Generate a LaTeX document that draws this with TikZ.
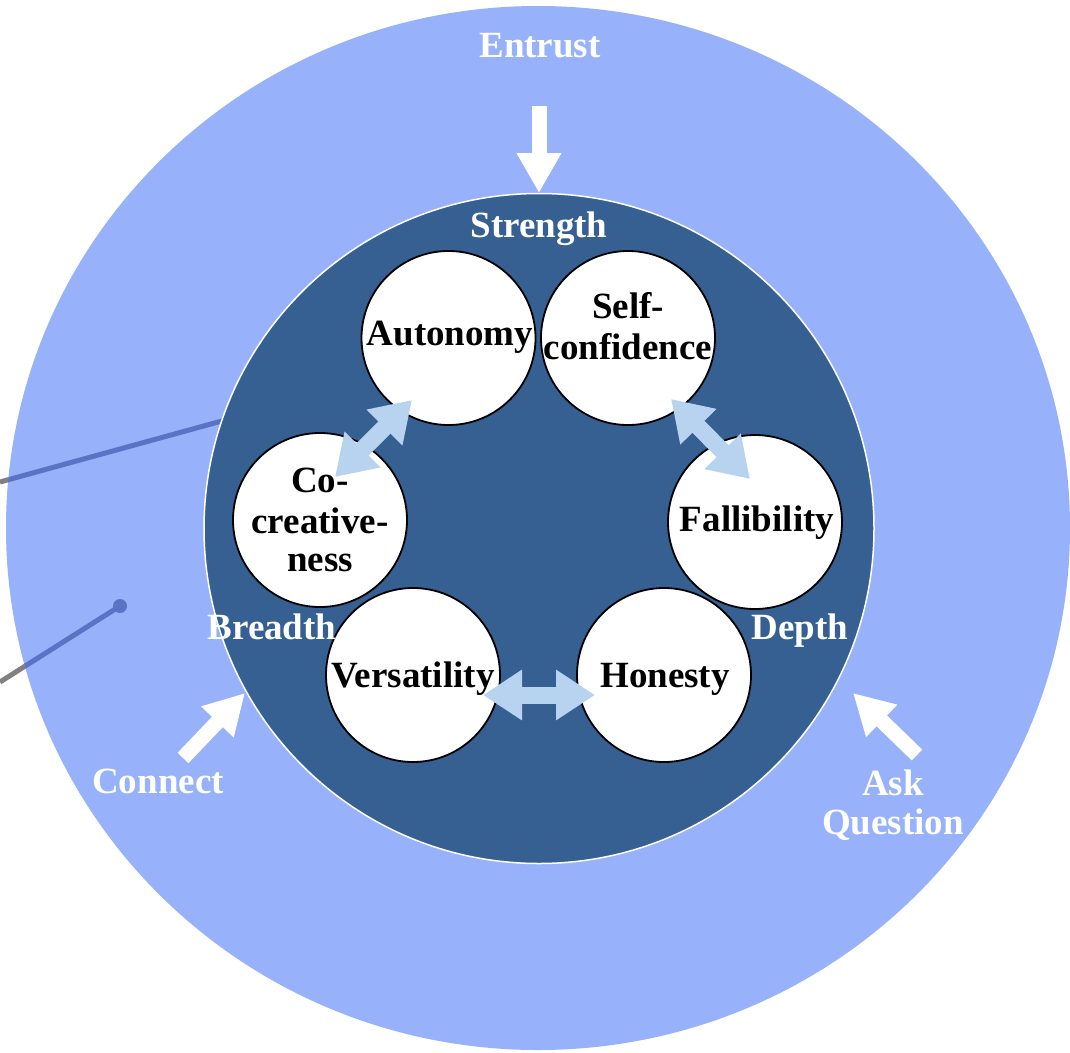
\documentclass[tikz,border=0pt]{standalone}
\usepackage{fontspec}
\setmainfont{Liberation Serif}
\usetikzlibrary{arrows.meta}
\definecolor{outerblue}{RGB}{151,178,251}
\definecolor{innerblue}{RGB}{54,96,146}
\definecolor{dblarrow}{RGB}{183,211,240}
\definecolor{leaderblue}{RGB}{90,115,196}
\definecolor{leadergray}{RGB}{128,128,128}
\begin{document}
\begin{tikzpicture}[x=1pt,y=-1pt,
  bubble/.style={circle, fill=white, draw=black, line width=1.8pt, minimum size=174pt, inner sep=0pt},
  intext/.style={font=\fontsize{37}{41}\selectfont\bfseries, text=black, align=center, anchor=base, inner sep=0pt},
  outtext/.style={font=\fontsize{37}{41}\selectfont\bfseries, text=white, align=center, anchor=base, inner sep=0pt},
  whitearrow/.style={draw=white, line width=15pt, -{Triangle[length=40pt,width=42pt]}},
  linkarrow/.style={draw=dblarrow, line width=17pt, {Triangle[length=39pt,width=48pt]}-{Triangle[length=39pt,width=48pt]}},
  leader/.style={line width=5pt},
]
\useasboundingbox (0,0) rectangle (1070,1052);
\fill[white] (0,0) rectangle (1070,1052);

% leader line coordinates
\coordinate (L1a) at (0,482);
\coordinate (L1b) at (260,410.5);
\coordinate (L2a) at (0,682);
\node[circle, fill=leaderblue, minimum size=14pt, inner sep=0pt] (dot) at (120,606) {};

\draw[leadergray, leader] (L1a) -- (L1b);
\draw[leadergray, leader] (L2a) -- (dot.center);

% outer ring
\fill[outerblue] (538,528) ellipse [x radius=532, y radius=522];
\begin{scope}
  \clip (538,528) ellipse [x radius=532, y radius=522];
  \draw[leaderblue, leader] (L1a) -- (L1b);
  \draw[leaderblue, leader] (L2a) -- (dot.center);
\end{scope}
\node[circle, fill=leaderblue, minimum size=14pt, inner sep=0pt] at (dot.center) {};

% inner disc
\node[circle, fill=innerblue, draw=white, line width=1.5pt, minimum size=670pt, inner sep=0pt] (core) at (539,528.5) {};

% bubbles
\node[bubble] (auto) at (448.5,338) {};
\node[bubble] (self) at (628,338) {};
\node[bubble] (fall) at (755,522) {};
\node[bubble] (hon)  at (664,675) {};
\node[bubble] (vers) at (413,675) {};
\node[bubble] (cocr) at (320,520) {};

% bubble texts
\node[intext] (tauto) at (450,345) {Autonomy};
\node[intext] (tself1) at (628,318) {Self-};
\node[intext] (tself2) at (628,359) {confidence};
\node[intext] (tfall) at (757,531) {Fallibility};
\node[intext] (thon) at (665,687) {Honesty};
\node[intext] (tvers) at (413,687) {Versatility};
\node[intext] (tco1) at (320,492) {Co-};
\node[intext] (tco2) at (320,533) {creative-};
\node[intext] (tco3) at (320,571) {ness};

% double arrows
\coordinate (a1s) at (335,477);
\coordinate (a1e) at (412,400);
\coordinate (a2s) at (671,399);
\coordinate (a2e) at (750,479);
\coordinate (a3s) at (483,695);
\coordinate (a3e) at (595,695);
\draw[linkarrow] (a1s) -- (a1e);
\draw[linkarrow] (a2s) -- (a2e);
\draw[linkarrow] (a3s) -- (a3e);

% ring labels
\node[outtext] (strength) at (539,237) {Strength};
\node[outtext] (breadth) at (272,639) {Breadth};
\node[outtext] (depth) at (800,639) {Depth};

% outer labels
\node[outtext] (entrust) at (540,57) {Entrust};
\node[outtext] (connect) at (158,793) {Connect};
\node[outtext] (ask1) at (893,795) {Ask};
\node[outtext] (ask2) at (893,834) {Question};

% white arrows
\coordinate (e1) at (539,106);
\coordinate (e2) at (539,193);
\coordinate (c1) at (183,758);
\coordinate (c2) at (245,693);
\coordinate (q1) at (917,755);
\coordinate (q2) at (853,693);
\draw[whitearrow] (e1) -- (e2);
\draw[whitearrow] (c1) -- (c2);
\draw[whitearrow] (q1) -- (q2);
\end{tikzpicture}
\end{document}
